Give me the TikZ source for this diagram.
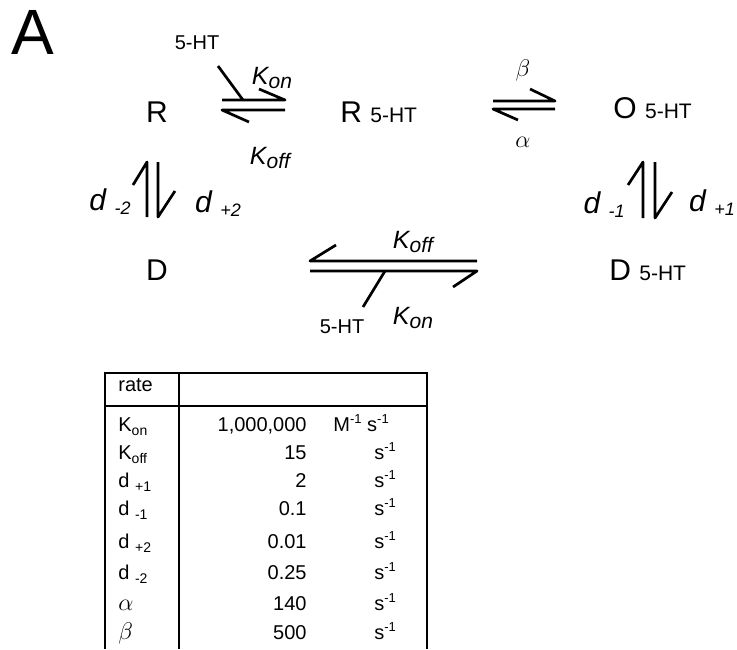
\documentclass[tikz,border=0pt]{standalone}
\usepackage{fontspec}
\setmainfont{Liberation Sans}
\newcommand\myfs[1]{\fontsize{#1}{#1}\selectfont}
\newcommand\lsub[2]{\raisebox{-2pt}{\myfs{#1}#2}}
\newcommand\tsup[1]{\raisebox{4pt}{\myfs{6.5}#1}}
\begin{document}
\begin{tikzpicture}[x=0.5pt,y=-0.5pt,
  every node/.style={inner sep=0pt},
  sp/.style={font=\myfs{15}},
  ht/.style={font=\myfs{10}},
  rk/.style={font=\myfs{12.5}\itshape},
  dl/.style={font=\myfs{15}\itshape},
  gk/.style={font=\myfs{12}},
  eqarrow/.style={line width=1.35pt, line join=round},
  tb/.style={font=\myfs{10}},
  tline/.style={line width=1pt}]
\useasboundingbox (0,0) rectangle (737,649);

\node[font=\myfs{32}] (A) at (33,32) {A};

% species
\node[sp] (R) at (157,112) {R};
\node[sp, anchor=west] (RH) at (340,112) {R {\myfs{10.5}5-HT}};
\node[sp, anchor=west] (OH) at (613,108) {O {\myfs{10.5}5-HT}};
\node[sp] (D) at (157,270) {D};
\node[sp, anchor=west] (DH) at (609,270) {D {\myfs{10.5}5-HT}};

% R <-> R 5-HT
\coordinate (a1) at (222,100); \coordinate (a2) at (285,100);
\coordinate (b1) at (222,110); \coordinate (b2) at (285,110);
\coordinate (s1) at (218,66);  \coordinate (s2) at (243,100);
\draw[eqarrow] (a1) -- (a2) -- ++(-26,-11);
\draw[eqarrow] (b2) -- (b1) -- ++(27,12);
\draw[eqarrow] (s1) -- (s2);
\node[ht] (ht1) at (197,43) {5-HT};
\node[rk] (kon1) at (272,78) {K\lsub{10.5}{on}};
\node[rk] (koff1) at (270,158) {K\lsub{10.5}{off}};

% R 5-HT <-> O 5-HT
\coordinate (c1) at (493,101); \coordinate (c2) at (555,101);
\coordinate (e1) at (493,109); \coordinate (e2) at (555,109);
\draw[eqarrow] (c1) -- (c2) -- ++(-25,-12);
\draw[eqarrow] (e2) -- (e1) -- ++(25,11);
\node[gk] (beta) at (523,70) {$\beta$};
\node[gk] (alpha) at (523,142) {$\alpha$};

% O 5-HT <-> D 5-HT
\coordinate (f1) at (643,218); \coordinate (f2) at (643,162);
\coordinate (g1) at (655,162); \coordinate (g2) at (655,218);
\draw[eqarrow] (f1) -- (f2) -- ++(-15,23);
\draw[eqarrow] (g1) -- (g2) -- ++(17,-26);
\node[dl] (dm1) at (604,205) {d \lsub{9}{-1}};
\node[dl] (dp1) at (712,203) {d \lsub{9}{+1}};

% R <-> D
\coordinate (h1) at (147,217); \coordinate (h2) at (147,162);
\coordinate (i1) at (158,162); \coordinate (i2) at (158,217);
\draw[eqarrow] (h1) -- (h2) -- ++(-14,23);
\draw[eqarrow] (i1) -- (i2) -- ++(17,-26);
\node[dl] (dm2) at (110,202) {d \lsub{9}{-2}};
\node[dl] (dp2) at (218,204) {d \lsub{9}{+2}};

% D <-> D 5-HT
\coordinate (j1) at (477,261); \coordinate (j2) at (310,261);
\coordinate (k1) at (310,271); \coordinate (k2) at (477,271);
\coordinate (l1) at (385,271); \coordinate (l2) at (363,307);
\draw[eqarrow] (j1) -- (j2) -- ++(26,-16);
\draw[eqarrow] (k1) -- (k2) -- ++(-24,16);
\draw[eqarrow] (l1) -- (l2);
\node[rk] (koff2) at (413,242) {K\lsub{10.5}{off}};
\node[rk] (kon2) at (413,318) {K\lsub{10.5}{on}};
\node[ht] (ht2) at (342,327) {5-HT};

% table
\draw[tline] (105,649) -- (105,373) -- (427,373) -- (427,649);
\draw[tline] (105,406) -- (427,406);
\draw[tline] (179,373) -- (179,649);
\node[tb, anchor=base west] (rate) at (118,391) {rate};

\node[tb, anchor=base west] (n1) at (118,431) {K\lsub{7}{on}};
\node[tb, anchor=base west] (n2) at (118,459) {K\lsub{7}{off}};
\node[tb, anchor=base west] (n3) at (118,487) {d \lsub{7}{+1}};
\node[tb, anchor=base west] (n4) at (118,515) {d \lsub{7}{-1}};
\node[tb, anchor=base west] (n5) at (118,548) {d \lsub{7}{+2}};
\node[tb, anchor=base west] (n6) at (118,579) {d \lsub{7}{-2}};
\node[tb, anchor=base west, font=\myfs{11.5}] (n7) at (118,610) {$\alpha$};
\node[tb, anchor=base west, font=\myfs{11.5}] (n8) at (118,639) {$\beta$};

\node[tb, anchor=base east] (v1) at (307,431) {1,000,000};
\node[tb, anchor=base east] (v2) at (307,459) {15};
\node[tb, anchor=base east] (v3) at (307,487) {2};
\node[tb, anchor=base east] (v4) at (307,515) {0.1};
\node[tb, anchor=base east] (v5) at (307,548) {0.01};
\node[tb, anchor=base east] (v6) at (307,579) {0.25};
\node[tb, anchor=base east] (v7) at (307,610) {140};
\node[tb, anchor=base east] (v8) at (307,639) {500};

\node[tb, anchor=base west] (u1) at (333,431) {M\tsup{-1} s\tsup{-1}};
\node[tb, anchor=base west] (u2) at (374,459) {s\tsup{-1}};
\node[tb, anchor=base west] (u3) at (374,487) {s\tsup{-1}};
\node[tb, anchor=base west] (u4) at (374,515) {s\tsup{-1}};
\node[tb, anchor=base west] (u5) at (374,548) {s\tsup{-1}};
\node[tb, anchor=base west] (u6) at (374,579) {s\tsup{-1}};
\node[tb, anchor=base west] (u7) at (374,610) {s\tsup{-1}};
\node[tb, anchor=base west] (u8) at (374,639) {s\tsup{-1}};
\end{tikzpicture}
\end{document}
